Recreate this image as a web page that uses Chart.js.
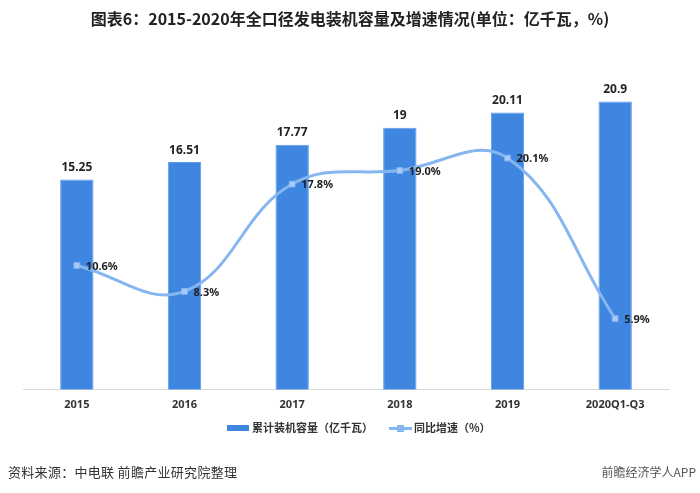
<!DOCTYPE html>
<html>
<head>
<meta charset="utf-8">
<script src="https://cdn.jsdelivr.net/npm/chart.js@4.4.0/dist/chart.umd.min.js"></script>
<style>
    html, body { margin: 0; padding: 0; background: #fff; }
    #wrap { position: relative; width: 700px; height: 493px; font-family: "Noto Sans CJK SC", "Noto Sans", sans-serif; color: #333; }
    #chart { position: absolute; left: 0; top: 0; }
    .title { position: absolute; left: 0; top: 6px; width: 700px; text-align: center; font-size: 16px; font-weight: bold; color: #222; line-height: 24px; }
    .legend { position: absolute; top: 418px; left: 0; width: 700px; font-size: 11px; font-weight: bold; color: #333; line-height: 18px; }
    .legend .item { position: absolute; top: 0; white-space: nowrap; }
    .swatch-bar { display: inline-block; width: 22px; height: 6px; background: #3f86e1; vertical-align: middle; margin-right: 3px; position: relative; top: -1px; }
    .swatch-line { display: inline-block; width: 23px; height: 3px; background: #86b6f0; vertical-align: middle; margin-right: 2px; position: relative; top: -1px; }
    .swatch-line i { position: absolute; left: 8px; top: -2px; width: 7px; height: 7px; background: #86b6f0; }
    .source { position: absolute; left: 8px; top: 462px; font-size: 13px; letter-spacing: 0.3px; color: #333; }
    .brand { position: absolute; right: 4px; top: 463px; font-size: 12px; color: #555; }
</style>
</head>
<body>
<div id="wrap">
    <canvas id="chart" width="700" height="493"></canvas>
    <div class="title">图表6：2015-2020年全口径发电装机容量及增速情况(单位：亿千瓦，%)</div>
    <div class="legend">
        <div class="item" style="left:227px"><span class="swatch-bar"></span>累计装机容量（亿千瓦）</div>
        <div class="item" style="left:389px"><span class="swatch-line"><i></i></span>同比增速（%）</div>
    </div>
    <div class="source">资料来源：中电联 前瞻产业研究院整理</div>
    <div class="brand">前瞻经济学人APP</div>
</div>
<script>
// data
const categories = ['2015', '2016', '2017', '2018', '2019', '2020Q1-Q3'];
const capacity = [15.25, 16.51, 17.77, 19, 20.11, 20.9];
const capacityLabels = ['15.25', '16.51', '17.77', '19', '20.11', '20.9'];
const growth = [10.6, 8.3, 17.8, 19.0, 20.1, 5.9];

const barColor = '#3f86e1';
const lineColor = '#86b6f0';

// value labels above bars and to the right of line points
const valueLabels = {
    id: 'valueLabels',
    afterDatasetsDraw(chart) {
        const ctx = chart.ctx;
        ctx.save();
        ctx.fillStyle = '#222';
        ctx.textBaseline = 'middle';

        const barMeta = chart.getDatasetMeta(1);
        ctx.font = 'bold 12px "Noto Sans", "DejaVu Sans", sans-serif';
        ctx.textAlign = 'center';
        barMeta.data.forEach((bar, i) => {
            ctx.fillText(capacityLabels[i], bar.x, bar.y - 12);
        });

        const lineMeta = chart.getDatasetMeta(0);
        ctx.font = 'bold 11px "Noto Sans", "DejaVu Sans", sans-serif';
        ctx.textAlign = 'left';
        lineMeta.data.forEach((pt, i) => {
            ctx.fillText(growth[i].toFixed(1) + '%', pt.x + 9, pt.y + 1);
        });
        ctx.restore();
    }
};

new Chart(document.getElementById('chart'), {
    data: {
        labels: categories,
        datasets: [
            {
                type: 'line',
                label: '同比增速（%）',
                data: growth,
                yAxisID: 'y2',
                borderColor: lineColor,
                backgroundColor: '#a9cbf5',
                borderWidth: 3,
                pointStyle: 'rect',
                pointRadius: 4,
                pointBorderWidth: 1,
                pointBorderColor: lineColor,
                tension: 0.4,
                order: 0
            },
            {
                type: 'bar',
                label: '累计装机容量（亿千瓦）',
                data: capacity,
                yAxisID: 'y',
                backgroundColor: barColor,
                borderColor: '#5d9aea',
                borderWidth: 1,
                categoryPercentage: 1,
                barPercentage: 0.31,
                order: 1
            }
        ]
    },
    options: {
        responsive: false,
        animation: false,
        layout: { padding: { left: 23, right: 31, top: 45, bottom: 74 } },
        plugins: {
            legend: { display: false },
            tooltip: { enabled: false }
        },
        scales: {
            x: {
                grid: { display: false, drawTicks: false },
                border: { display: true, color: '#d9d9d9', width: 1 },
                ticks: {
                    color: '#333',
                    padding: 8,
                    font: { size: 11, weight: 'bold', family: '"Noto Sans", "DejaVu Sans", sans-serif' }
                }
            },
            y: {
                display: false,
                min: 0,
                max: 25
            },
            y2: {
                display: false,
                position: 'right',
                min: -0.4,
                max: 30.1
            }
        }
    },
    plugins: [valueLabels]
});
</script>
</body>
</html>
